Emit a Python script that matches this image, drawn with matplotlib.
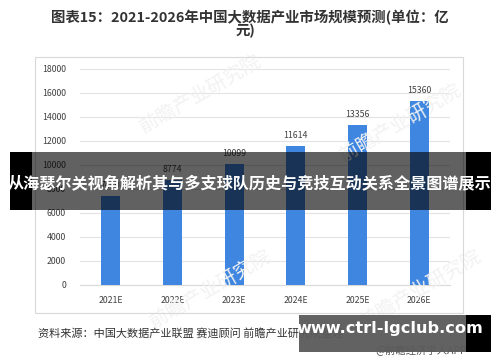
import matplotlib
matplotlib.use("Agg")
import matplotlib.pyplot as plt
from matplotlib.patches import Rectangle

plt.rcParams['font.family'] = ['Noto Sans CJK SC', 'DejaVu Sans']

categories = ["2021E", "2022E", "2023E", "2024E", "2025E", "2026E"]
values = [7440, 8774, 10099, 11614, 13356, 15360]
labels = ["7440", "8774", "10099", "11614", "13356", "15360"]
yticks = [0, 2000, 4000, 6000, 8000, 10000, 12000, 14000, 16000, 18000]

title_line1 = "图表15：2021-2026年中国大数据产业市场规模预测(单位：亿"
title_line2 = "元)"
source_text = "资料来源：中国大数据产业联盟 赛迪顾问 前瞻产业研究院整理"
credit_text = "@前瞻经济学人APP"
banner_text = "从海瑟尔关视角解析其与多支球队历史与竞技互动关系全景图谱展示"
site_text = "www.ctrl-lgclub.com"

W, H = 500, 362
fig = plt.figure(figsize=(W/100, H/100), dpi=100)
fig.patch.set_facecolor("white")

def fx(px): return px / W
def fy(py): return 1 - py / H

# frame
fig.patches.append(Rectangle((fx(35), fy(313)), fx(463) - fx(35), fy(57) - fy(313),
                             transform=fig.transFigure, fill=False, edgecolor="#d9d9d9", linewidth=0.8))

ax = fig.add_axes([fx(80), fy(285), fx(450) - fx(80), fy(69) - fy(285)])
x = range(len(categories))
ax.bar(x, values, width=0.31, color="#3F86E0", zorder=3)
ax.set_xlim(-0.5, len(categories) - 0.5)
ax.set_ylim(0, 18000)
ax.set_yticks(yticks)
ax.set_yticklabels([str(v) for v in yticks], fontsize=6.3, color="#404040")
ax.set_xticks(list(x))
ax.set_xticklabels(categories, fontsize=6.3, color="#404040")
ax.tick_params(length=0, pad=8)
ax.tick_params(axis='y', pad=10)
ax.grid(axis='y', color="#e3e3e3", linewidth=0.8, zorder=0)
for s in ["top", "right", "left"]:
    ax.spines[s].set_visible(False)
ax.spines["bottom"].set_color("#d9d9d9")
ax.spines["bottom"].set_linewidth(0.8)
ax.set_facecolor("none")
for i, (v, lab) in enumerate(zip(values, labels)):
    ax.annotate(lab, (i, v), xytext=(0, 4), textcoords="offset points",
                ha="center", va="bottom", fontsize=6.3, color="#404040")

# faint watermark
for (wx, wy) in [(0.40, 0.74), (0.80, 0.66), (0.42, 0.2), (0.84, 0.2)]:
    fig.text(wx, wy, "前瞻产业研究院", fontsize=14, color="#f2f2f2", rotation=30,
             ha="center", va="center", zorder=0)

# title
fig.text(0.5, fy(18), title_line1, ha="center", va="center", fontsize=10.4,
         fontweight="bold", color="#333333")
fig.text(0.49, fy(31), title_line2, ha="center", va="center", fontsize=10.4,
         fontweight="bold", color="#333333")

# source
fig.text(fx(38), fy(333), source_text, ha="left", va="center", fontsize=8, color="#333333")
fig.text(fx(467), fy(350), credit_text, ha="right", va="center", fontsize=7.5, color="#555555")

# banner overlay
fig.patches.append(Rectangle((fx(32), fy(210)), fx(466) - fx(32), fy(152) - fy(210),
                             transform=fig.transFigure, facecolor="black", alpha=0.62,
                             edgecolor="none", zorder=10))
fig.patches.append(Rectangle((fx(10), fy(210)), fx(32) - fx(10), fy(152) - fy(210),
                             transform=fig.transFigure, facecolor="black", edgecolor="none", zorder=10))
fig.patches.append(Rectangle((fx(466), fy(210)), fx(491) - fx(466), fy(152) - fy(210),
                             transform=fig.transFigure, facecolor="black", edgecolor="none", zorder=10))
fig.text(0.5, fy(183), banner_text, ha="center", va="center", fontsize=11.6,
         fontweight="bold", color="white", zorder=11)

# site overlay
fig.patches.append(Rectangle((fx(299), fy(352)), fx(466) - fx(299), fy(315) - fy(352),
                             transform=fig.transFigure, facecolor="#5a5a5a", alpha=0.95,
                             edgecolor="none", zorder=10))
fig.patches.append(Rectangle((fx(466), fy(352)), fx(491) - fx(466), fy(315) - fy(352),
                             transform=fig.transFigure, facecolor="black", edgecolor="none", zorder=10))
fig.text(fx(390), fy(329), site_text, ha="center", va="center", fontsize=11.6,
         fontweight="bold", color="white", family=["DejaVu Sans"], zorder=11)

fig.savefig("out.png", dpi=100)
